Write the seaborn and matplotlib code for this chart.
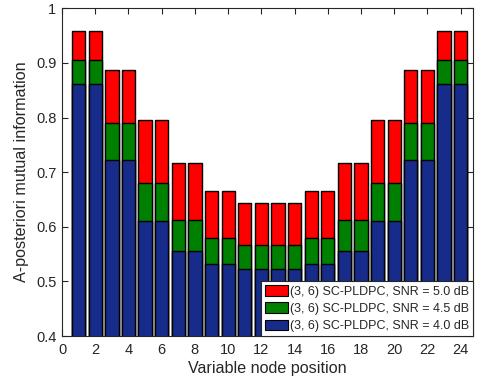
import matplotlib
matplotlib.use("Agg")
import matplotlib.pyplot as plt
import numpy as np
import pandas as pd
import seaborn as sns
from matplotlib.patches import Patch

sns.set_theme(style="white")
plt.rcParams["font.family"] = ["Liberation Sans", "DejaVu Sans"]

positions = list(range(1, 25))
mi_snr_50 = [0.958, 0.958, 0.887, 0.887, 0.795, 0.795, 0.717, 0.717, 0.666, 0.666,
             0.643, 0.643, 0.643, 0.643, 0.666, 0.666, 0.717, 0.717, 0.795, 0.795,
             0.887, 0.887, 0.958, 0.958]
mi_snr_45 = [0.905, 0.905, 0.790, 0.790, 0.681, 0.681, 0.612, 0.612, 0.579, 0.579,
             0.566, 0.566, 0.566, 0.566, 0.579, 0.579, 0.612, 0.612, 0.681, 0.681,
             0.790, 0.790, 0.905, 0.905]
mi_snr_40 = [0.862, 0.862, 0.723, 0.723, 0.611, 0.611, 0.555, 0.555, 0.531, 0.531,
             0.523, 0.523, 0.523, 0.523, 0.531, 0.531, 0.555, 0.555, 0.611, 0.611,
             0.723, 0.723, 0.862, 0.862]
series_labels = ["(3, 6) SC-PLDPC, SNR = 5.0 dB",
                 "(3, 6) SC-PLDPC, SNR = 4.5 dB",
                 "(3, 6) SC-PLDPC, SNR = 4.0 dB"]
series_colors = ["#FF0000", "#008000", "#172C8A"]

fig = plt.figure(figsize=(4.81, 3.86), dpi=100)
ax = fig.add_axes([0.129, 0.1295, 0.855, 0.849])

# tallest series first so the lower ones sit in front
for vals, color in zip([mi_snr_50, mi_snr_45, mi_snr_40], series_colors):
    df = pd.DataFrame({"pos": positions, "mi": vals})
    sns.barplot(data=df, x="pos", y="mi", native_scale=True, width=0.8,
                color=color, saturation=1, edgecolor="black", linewidth=1.0,
                errorbar=None, ax=ax)

ax.set_xlim(0, 24.76)
ax.set_ylim(0.4, 1.0)
ax.set_xticks(np.arange(0, 25, 2))
ax.set_yticks(np.arange(0.4, 1.01, 0.1))
ax.set_yticklabels(["0.4", "0.5", "0.6", "0.7", "0.8", "0.9", "1"])
ax.set_xlabel("Variable node position", fontsize=11.6, color="#262626", labelpad=3)
ax.set_ylabel("A-posteriori mutual information", fontsize=11.6, color="#262626", labelpad=5)

for s in ax.spines.values():
    s.set_visible(True)
    s.set_color("#262626")
    s.set_linewidth(0.8)
ax.tick_params(direction="in", length=4, width=0.8, colors="#262626",
               labelsize=10.5, top=True, right=True, bottom=True, left=True)
ax.tick_params(axis="x", pad=5)
ax.tick_params(axis="y", pad=4)

handles = [Patch(facecolor=c, edgecolor="black", linewidth=0.8) for c in series_colors]
leg = ax.legend(handles, series_labels, loc="lower right", fontsize=9.0,
                frameon=True, fancybox=False, framealpha=1, edgecolor="#262626",
                borderpad=0.3, labelspacing=0.36, handlelength=1.85, handleheight=0.96,
                handletextpad=0.16, borderaxespad=0.0)
leg.get_frame().set_linewidth(0.8)

fig.savefig("out.png", dpi=100)
